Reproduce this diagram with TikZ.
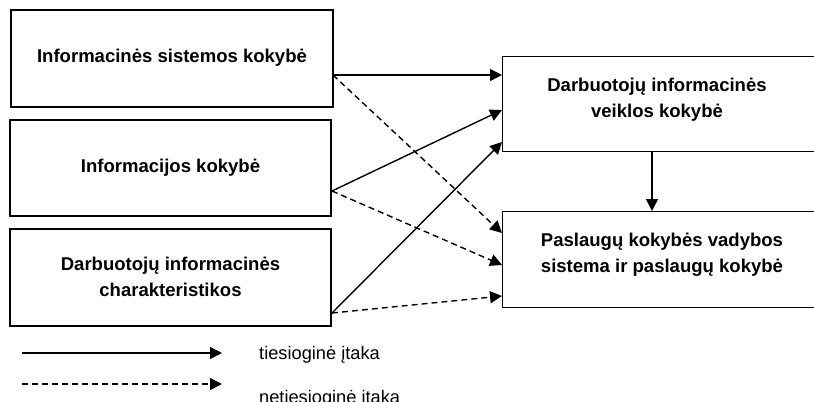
\documentclass[tikz,border=0pt]{standalone}
\usepackage{fontspec}
\setmainfont{Liberation Sans}
\usetikzlibrary{arrows.meta}
\begin{document}
\begin{tikzpicture}[x=1bp,y=-1bp,
  box/.style={draw,line width=1.4bp,inner sep=0pt},
  label/.style={align=center,inner sep=0pt,font=\bfseries\fontsize{18.6}{26}\selectfont},
  link/.style={line width=1.4bp,-{Triangle[length=12bp,width=12bp]}},
  indirect/.style={link,dash pattern=on 6bp off 4bp},
  legendtext/.style={anchor=west,inner sep=0pt,font=\fontsize{18.3}{22}\selectfont}]
  \useasboundingbox (0,0) rectangle (814,401);
  % left column: factors
  \node[box,minimum width=322bp,minimum height=97bp] (isys) at (172,58.5) {};
  \node[label] (isyst) at (172,58) {Informacinės sistemos kokybė};
  \node[box,minimum width=321bp,minimum height=96bp] (info) at (170.5,168) {};
  \node[label] (infot) at (170.5,168) {Informacijos kokybė};
  \node[box,minimum width=321bp,minimum height=97bp] (char) at (170.5,277.5) {};
  \node[label] (chart) at (170.5,276.5) {Darbuotojų informacinės\\charakteristikos};
  % right column: outcomes (running off the right edge)
  \node[box,anchor=north west,minimum width=330bp,minimum height=95bp] (act) at (502,56) {};
  \node[label] (actt) at (657,100) {Darbuotojų informacinės\\veiklos kokybė};
  \node[box,anchor=north west,minimum width=330bp,minimum height=96bp] (serv) at (502,211) {};
  \node[label] (servt) at (662,255) {Paslaugų kokybės vadybos\\sistema ir paslaugų kokybė};
  % connection points
  \coordinate (isysout) at (333,75);
  \coordinate (infoout) at (332,191);
  \coordinate (charout) at (332,313);
  \coordinate (act1) at (502,75);
  \coordinate (act2) at (502,110);
  \coordinate (act3) at (502,142);
  \coordinate (serv1) at (502,233);
  \coordinate (serv2) at (502,265);
  \coordinate (serv3) at (502,296);
  \coordinate (acttop) at (652,151);
  \coordinate (servtop) at (652,211);
  % direct influences
  \draw[link] (isysout) -- (act1);
  \draw[link] (infoout) -- (act2);
  \draw[link] (charout) -- (act3);
  \draw[link] (acttop) -- (servtop);
  % indirect influences
  \draw[indirect] (isysout) -- (serv1);
  \draw[indirect] (infoout) -- (serv2);
  \draw[indirect] (charout) -- (serv3);
  % legend
  \coordinate (l1a) at (22,353);
  \coordinate (l1b) at (222,353);
  \coordinate (l2a) at (22,384);
  \coordinate (l2b) at (222,384);
  \draw[link] (l1a) -- (l1b);
  \draw[indirect] (l2a) -- (l2b);
  \node[legendtext] (t1) at (259,355) {tiesioginė įtaka};
  \node[legendtext] (t2) at (259,399) {netiesioginė įtaka};
\end{tikzpicture}
\end{document}
